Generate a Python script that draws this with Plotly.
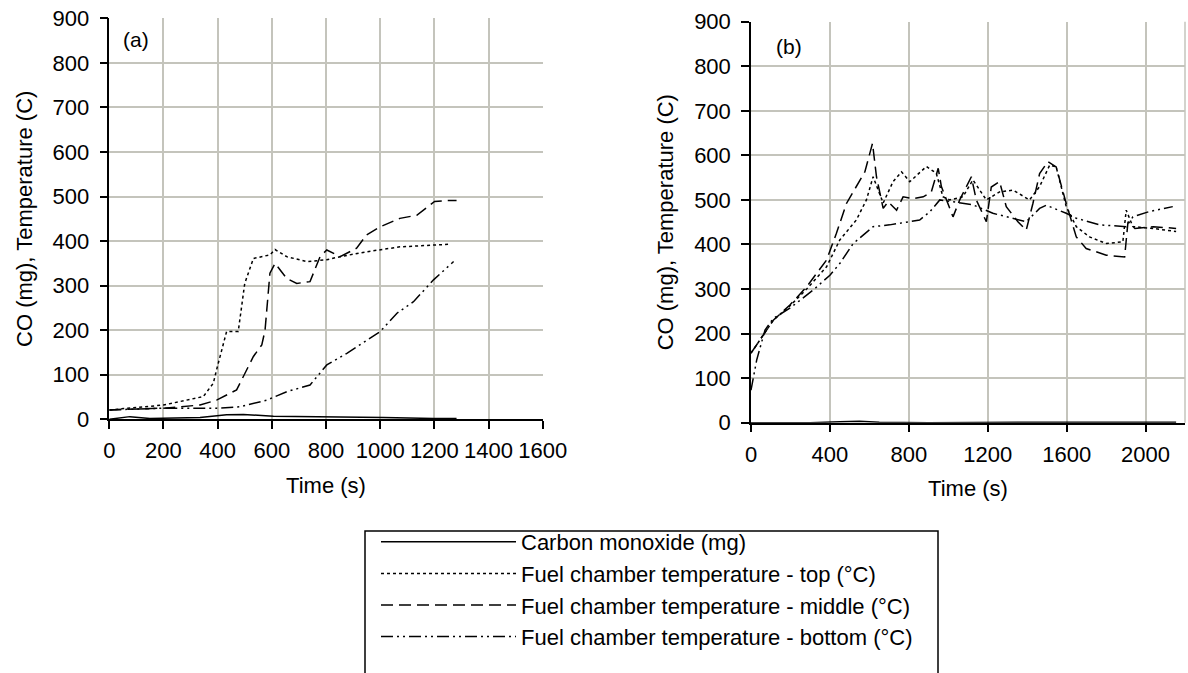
import plotly.graph_objects as go

# ---- Panel (a) data ----
a_co_t = [0, 76, 150, 335, 433, 495, 606, 828, 1012, 1197, 1282]
a_co_v = [0, 6, 2, 4, 10, 11, 7, 6, 4, 2, 2]

a_top_t = [0, 200, 347, 384, 396, 433, 476, 500, 532, 593, 612, 655, 729, 803, 852, 950, 1073, 1258]
a_top_v = [21, 32, 51, 81, 111, 197, 197, 305, 361, 369, 381, 365, 354, 358, 365, 376, 387, 393]

a_mid_t = [0, 200, 335, 396, 470, 495, 532, 563, 575, 593, 612, 655, 692, 741, 778, 803, 852, 913, 950, 1000, 1073, 1135, 1201, 1245, 1282]
a_mid_v = [21, 25, 32, 43, 66, 96, 141, 167, 200, 328, 350, 316, 305, 309, 365, 380, 365, 384, 414, 432, 451, 458, 489, 491, 491]

a_bot_t = [0, 200, 396, 482, 581, 655, 741, 803, 877, 1000, 1062, 1123, 1197, 1271]
a_bot_v = [21, 25, 25, 28, 43, 62, 77, 122, 148, 197, 238, 264, 313, 354]

# ---- Panel (b) data ----
b_co_t = [0, 300, 450, 550, 650, 900, 1500, 2155]
b_co_v = [0, 0, 2, 3, 1, 0, 1, 1]

b_top_t = [0, 71, 113, 197, 282, 383, 450, 534, 585, 619, 670, 720, 763, 805, 889, 939, 973, 1007, 1074, 1125, 1193, 1260, 1328, 1412, 1463, 1514, 1547, 1598, 1649, 1716, 1801, 1885, 1902, 1936, 2039, 2155]
b_top_v = [156, 204, 230, 262, 300, 350, 410, 455, 500, 552, 493, 541, 563, 541, 575, 560, 507, 500, 507, 545, 500, 518, 522, 500, 530, 578, 574, 485, 440, 417, 402, 406, 477, 440, 436, 429]

b_mid_t = [0, 71, 113, 197, 282, 383, 433, 484, 577, 616, 636, 670, 695, 738, 771, 822, 873, 914, 949, 965, 991, 1024, 1058, 1117, 1142, 1193, 1218, 1260, 1294, 1353, 1395, 1429, 1463, 1505, 1547, 1598, 1649, 1699, 1801, 1894, 1911, 1946, 2039, 2155]
b_mid_v = [156, 204, 230, 264, 305, 365, 425, 492, 563, 627, 552, 481, 496, 477, 507, 503, 507, 518, 571, 530, 500, 462, 500, 552, 500, 451, 529, 541, 485, 451, 432, 492, 559, 586, 574, 492, 417, 391, 376, 372, 451, 436, 440, 436]

b_bot_t = [0, 29, 71, 113, 197, 316, 400, 451, 518, 619, 703, 855, 906, 957, 1024, 1125, 1226, 1395, 1463, 1497, 1598, 1649, 1767, 1902, 1936, 2020, 2138]
b_bot_v = [73, 141, 208, 234, 257, 298, 331, 358, 402, 440, 444, 455, 473, 500, 496, 489, 470, 451, 481, 488, 470, 459, 444, 440, 462, 474, 485]

series_names = ["Carbon monoxide (mg)",
                "Fuel chamber temperature - top (°C)",
                "Fuel chamber temperature - middle (°C)",
                "Fuel chamber temperature - bottom (°C)"]
dashes = ["solid", "dot", "12px,6px", "12px,4px,2px,4px,2px,4px"]

a_x_ticks = [0, 200, 400, 600, 800, 1000, 1200, 1400, 1600]
b_x_ticks = [0, 400, 800, 1200, 1600, 2000]
y_ticks = [0, 100, 200, 300, 400, 500, 600, 700, 800, 900]

GRID = "#c4c4bc"
FONT = "Liberation Sans, Arial, sans-serif"
FS = 22

fig = go.Figure()
a_data = [(a_co_t, a_co_v), (a_top_t, a_top_v), (a_mid_t, a_mid_v), (a_bot_t, a_bot_v)]
b_data = [(b_co_t, b_co_v), (b_top_t, b_top_v), (b_mid_t, b_mid_v), (b_bot_t, b_bot_v)]
for i, (t, v) in enumerate(a_data):
    fig.add_trace(go.Scatter(x=t, y=v, mode="lines", name=series_names[i],
                             line=dict(color="black", width=1.5, dash=dashes[i]),
                             xaxis="x", yaxis="y", showlegend=True))
for i, (t, v) in enumerate(b_data):
    fig.add_trace(go.Scatter(x=t, y=v, mode="lines", name=series_names[i],
                             line=dict(color="black", width=1.5, dash=dashes[i]),
                             xaxis="x2", yaxis="y2", showlegend=False))

W, H = 1188, 673
def px_x(p): return p / W
def px_y(p): return 1 - p / H

axis_common = dict(showgrid=True, gridcolor=GRID, gridwidth=1.5, zeroline=False,
                   showline=True, linecolor="black", linewidth=1.5, automargin=False,
                   ticks="outside", ticklen=8, tickwidth=1.5, tickcolor="black",
                   tickfont=dict(family=FONT, size=FS, color="black"))
xcommon = dict(ticklabelstandoff=3, **axis_common)
ycommon = dict(ticklabelstandoff=6, **axis_common)

fig.update_layout(
    width=W, height=H,
    margin=dict(l=0, r=0, t=0, b=0, autoexpand=False),
    paper_bgcolor="white", plot_bgcolor="white",
    font=dict(family=FONT, size=FS, color="black"),
    xaxis=dict(domain=[px_x(109.3), px_x(542.7)], range=[0, 1600], tickvals=a_x_ticks,
               anchor="y", title=dict(text="Time (s)", font=dict(size=FS), standoff=15), **xcommon),
    yaxis=dict(domain=[px_y(419.3), px_y(18.3)], range=[0, 900], tickvals=y_ticks,
               anchor="x", title=dict(text="CO (mg), Temperature (C)", font=dict(size=FS), standoff=14), **ycommon),
    xaxis2=dict(domain=[px_x(751), px_x(1185)], range=[0, 2200], tickvals=b_x_ticks,
                anchor="y2", title=dict(text="Time (s)", font=dict(size=FS), standoff=15), **xcommon),
    yaxis2=dict(domain=[px_y(422.7), px_y(21.7)], range=[0, 900], tickvals=y_ticks,
                anchor="x2", title=dict(text="CO (mg), Temperature (C)", font=dict(size=FS), standoff=14), **ycommon),
    legend=dict(x=px_x(376), y=px_y(521), xanchor="left", yanchor="top",
                bgcolor="rgba(0,0,0,0)", borderwidth=0,
                itemwidth=135, tracegroupgap=0,
                font=dict(family=FONT, size=FS, color="black")),
    annotations=[
        dict(text="(a)", x=px_x(136), y=px_y(39), xref="paper", yref="paper",
             showarrow=False, font=dict(size=21), xanchor="center", yanchor="middle"),
        dict(text="(b)", x=px_x(789), y=px_y(47), xref="paper", yref="paper",
             showarrow=False, font=dict(size=21), xanchor="center", yanchor="middle"),
    ],
    shapes=[
        dict(type="line", xref="x2 domain", yref="y2 domain", x0=1, x1=1, y0=0, y1=1,
             line=dict(color=GRID, width=1.5)),
        dict(type="rect", xref="paper", yref="paper", x0=px_x(365), x1=px_x(938),
             y0=px_y(690), y1=px_y(531), line=dict(color="black", width=1.5)),
    ],
)

fig.write_html("out.html")
